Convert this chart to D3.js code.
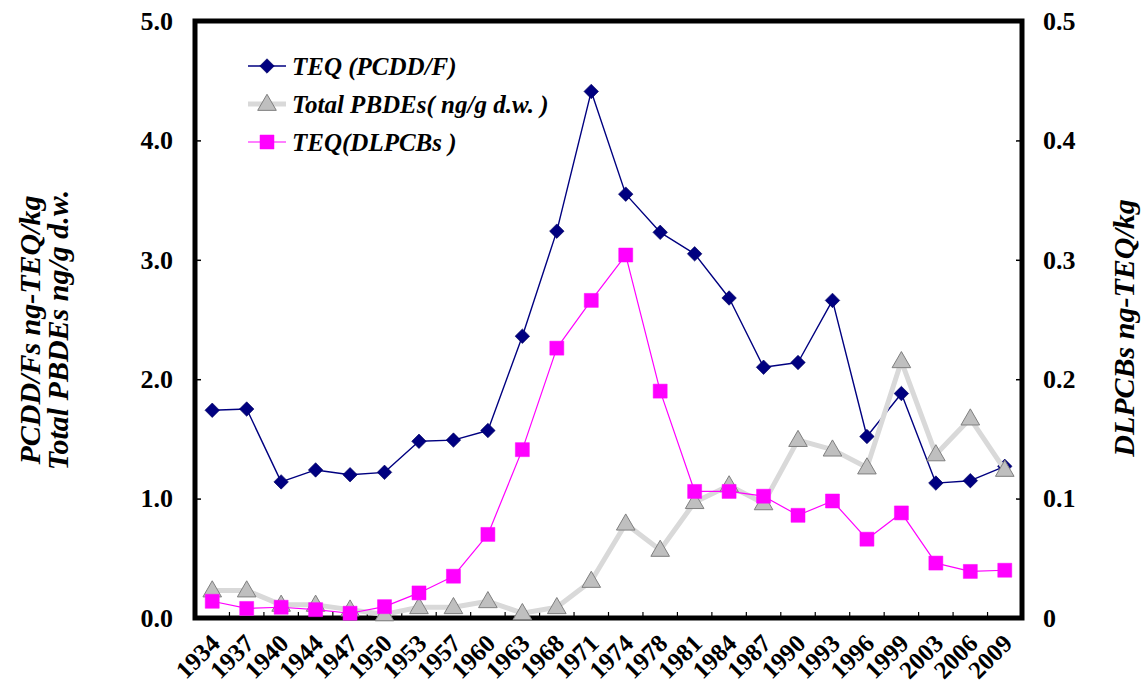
<!DOCTYPE html>
<html>
<head>
<meta charset="utf-8">
<script src="https://cdn.jsdelivr.net/npm/d3@7"></script>
<style>
  html, body { margin: 0; padding: 0; background: #fff; }
  svg { display: block; }
</style>
</head>
<body>
<svg id="chart" width="1144" height="688"></svg>
<script>
// Sampling years (core sections)
const years = ["1934","1937","1940","1944","1947","1950","1953","1957","1960","1963","1968","1971",
               "1974","1978","1981","1984","1987","1990","1993","1996","1999","2003","2006","2009"];

// TEQ of PCDD/Fs, ng-TEQ/kg (left axis)
const teqPcdd = [1.74, 1.75, 1.14, 1.24, 1.20, 1.22, 1.48, 1.49, 1.57, 2.36, 3.24, 4.41,
                 3.55, 3.23, 3.05, 2.68, 2.10, 2.14, 2.66, 1.52, 1.88, 1.13, 1.15, 1.27];

// Total PBDEs, ng/g d.w. (left axis)
const pbdes = [0.23, 0.23, 0.11, 0.11, 0.07, 0.03, 0.09, 0.09, 0.14, 0.04, 0.09, 0.31,
               0.79, 0.57, 0.97, 1.11, 0.96, 1.49, 1.41, 1.26, 2.15, 1.37, 1.67, 1.24];

// TEQ of dioxin-like PCBs, ng-TEQ/kg (right axis)
const teqDlpcb = [0.014, 0.008, 0.009, 0.007, 0.004, 0.0095, 0.021, 0.035, 0.070, 0.141, 0.226, 0.266,
                  0.304, 0.190, 0.106, 0.106, 0.102, 0.086, 0.098, 0.066, 0.088, 0.046, 0.039, 0.040];

const leftTicks = [0, 1, 2, 3, 4, 5];
const rightTicks = [0, 0.1, 0.2, 0.3, 0.4, 0.5];

const legendLabels = ["TEQ (PCDD/F)", "Total PBDEs( ng/g d.w. )", "TEQ(DLPCBs )"];
const leftTitle = ["PCDD/Fs ng-TEQ/kg", "Total PBDEs ng/g d.w."];
const rightTitle = "DLPCBs ng-TEQ/kg";

const FONT = "'Liberation Serif', 'Times New Roman', serif";

const svg = d3.select("#chart");
const plot = { left: 195, right: 1022, top: 21, bottom: 618 };

const x = d3.scaleBand().domain(years).range([plot.left, plot.right]).padding(0);
const yL = d3.scaleLinear().domain([0, 5]).range([plot.bottom, plot.top]);
const yR = d3.scaleLinear().domain([0, 0.5]).range([plot.bottom, plot.top]);
const cx = d => x(d) + x.bandwidth() / 2;

// Frame around the plot area
svg.append("rect")
  .attr("x", plot.left).attr("y", plot.top)
  .attr("width", plot.right - plot.left).attr("height", plot.bottom - plot.top)
  .attr("fill", "none").attr("stroke", "#000").attr("stroke-width", 5);

function styleAxis(g, size) {
  g.attr("font-family", FONT).attr("font-weight", "bold");
  g.select(".domain").remove();
  g.selectAll(".tick line").attr("stroke", "#000").attr("stroke-width", 1.5);
  g.selectAll(".tick text").attr("font-size", size).attr("fill", "#000");
}

// Left axis: inward ticks, labels outside
const gL = svg.append("g").attr("transform", `translate(${plot.left},0)`)
  .call(d3.axisLeft(yL).tickValues(leftTicks).tickSize(-6).tickPadding(22).tickFormat(d3.format(".1f")));
styleAxis(gL, 26);

// Right axis
const gR = svg.append("g").attr("transform", `translate(${plot.right},0)`)
  .call(d3.axisRight(yR).tickValues(rightTicks).tickSize(-6).tickPadding(21)
        .tickFormat(d => d === 0 ? "0" : d3.format(".1f")(d)));
styleAxis(gR, 26);

// Category boundary ticks on the bottom edge, pointing inward
svg.append("g").selectAll("line")
  .data(years.slice(1))
  .join("line")
  .attr("x1", d => x(d)).attr("x2", d => x(d))
  .attr("y1", plot.bottom).attr("y2", plot.bottom - 6)
  .attr("stroke", "#000").attr("stroke-width", 1.2);

// Year labels, slanted
const gX = svg.append("g").attr("transform", `translate(0,${plot.bottom})`)
  .call(d3.axisBottom(x).tickSize(0).tickFormat(d => d));
styleAxis(gX, 25);
gX.selectAll(".tick text")
  .attr("text-anchor", "end").attr("dominant-baseline", "central")
  .attr("y", 0).attr("dy", null)
  .attr("transform", "translate(3,21) rotate(-45)");

// Axis titles
const tl = svg.append("text").attr("font-family", FONT).attr("font-weight", "bold")
  .attr("font-style", "italic").attr("font-size", 30)
  .attr("text-anchor", "middle")
  .attr("transform", "translate(40,330) rotate(-90)");
tl.append("tspan").attr("x", 0).attr("y", 0).text(leftTitle[0]);
tl.append("tspan").attr("x", 0).attr("y", 28).text(leftTitle[1]);

svg.append("text").attr("font-family", FONT).attr("font-weight", "bold")
  .attr("font-style", "italic").attr("font-size", 30)
  .attr("text-anchor", "middle")
  .attr("transform", "translate(1134,328) rotate(-90)")
  .text(rightTitle);

// Series definitions
const series = [
  { values: teqPcdd, y: yL, line: "#000080", width: 1.4, marker: "diamond" },
  { values: pbdes,   y: yL, line: "#d9d9d9", width: 5,   marker: "triangle" },
  { values: teqDlpcb, y: yR, line: "#ff00ff", width: 1.2, marker: "square" }
];

function marker(g, kind, px, py) {
  if (kind === "diamond") {
    g.append("path")
      .attr("d", d3.symbol().type(d3.symbolSquare).size(105)())
      .attr("transform", `translate(${px},${py}) rotate(45)`)
      .attr("fill", "#000080").attr("stroke", "#000060").attr("stroke-width", 0.6);
  } else if (kind === "triangle") {
    g.append("path")
      .attr("d", d3.symbol().type(d3.symbolTriangle).size(150)())
      .attr("transform", `translate(${px},${py + 1})`)
      .attr("fill", "#bfbfbf").attr("stroke", "#7f7f7f").attr("stroke-width", 1);
  } else {
    g.append("path")
      .attr("d", d3.symbol().type(d3.symbolSquare).size(196)())
      .attr("transform", `translate(${px},${py})`)
      .attr("fill", "#ff00ff").attr("stroke", "#ff00ff").attr("stroke-width", 0.5);
  }
}

series.forEach(s => {
  const pts = years.map((yr, i) => [cx(yr), s.y(s.values[i])]);
  svg.append("path")
    .attr("d", d3.line()(pts))
    .attr("fill", "none").attr("stroke", s.line).attr("stroke-width", s.width)
    .attr("stroke-linejoin", "round");
  const g = svg.append("g");
  pts.forEach(p => marker(g, s.marker, p[0], p[1]));
});

// Legend
const legendY = [66, 104, 142];
series.forEach((s, i) => {
  const g = svg.append("g");
  const ly = legendY[i];
  g.append("line").attr("x1", 248).attr("x2", 286).attr("y1", ly).attr("y2", ly)
    .attr("stroke", s.line).attr("stroke-width", s.width);
  marker(g, s.marker, 267, ly);
  g.append("text").attr("x", 292).attr("y", ly).attr("dy", "0.35em")
    .attr("font-family", FONT).attr("font-weight", "bold")
    .attr("font-size", 25).attr("font-style", "italic").attr("fill", "#000")
    .text(legendLabels[i]);
});
</script>
</body>
</html>
